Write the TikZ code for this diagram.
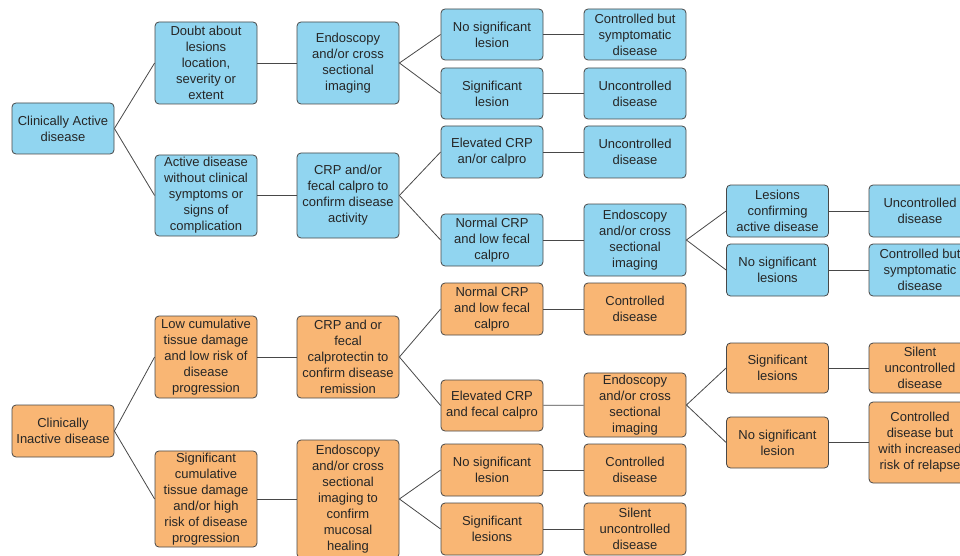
\documentclass[tikz,border=0pt]{standalone}
\usepackage{fontspec}
\setmainfont{Liberation Sans}
\definecolor{bfill}{RGB}{145,213,240}
\definecolor{ofill}{RGB}{249,182,116}
\definecolor{edge}{RGB}{72,72,72}
\begin{document}
\begin{tikzpicture}[x=1pt,y=-1pt,
  box/.style={draw=edge,line width=0.8pt,rounded corners=4pt,minimum width=102pt,
    align=center,inner xsep=1pt,inner ysep=2pt,font=\fontsize{13}{16}\selectfont,text=black!85},
  bb/.style={box,fill=bfill},
  ob/.style={box,fill=ofill},
  ln/.style={draw=edge,line width=0.8pt}]
\useasboundingbox (0,0) rectangle (960,556);
\clip (0,0) rectangle (960,556);
% blue
\node[bb,minimum height=51] (ca) at (63,128.5) {Clinically Active\\disease};
\node[bb,minimum height=82] (doubt) at (206,63) {Doubt about\\lesions\\location,\\severity or\\extent};
\node[bb,minimum height=81] (actwo) at (206,195.5) {Active disease\\without clinical\\symptoms or\\signs of\\complication};
\node[bb,minimum height=82] (endo1) at (348,63) {Endoscopy\\and/or cross\\sectional\\imaging};
\node[bb,minimum height=85] (crp1) at (348,195.5) {CRP and/or\\fecal calpro to\\confirm disease\\activity};
\node[bb,minimum height=51] (nsl1) at (492,34.5) {No significant\\lesion};
\node[bb,minimum height=51] (sl1) at (492,93.5) {Significant\\lesion};
\node[bb,minimum height=52] (ecrp1) at (492,152) {Elevated CRP\\an/or calpro};
\node[bb,minimum height=52] (ncrp1) at (492,240) {Normal CRP\\and low fecal\\calpro};
\node[bb,minimum height=51] (cbs1) at (635,34.5) {Controlled but\\symptomatic\\disease};
\node[bb,minimum height=51] (unc1) at (635,93.5) {Uncontrolled\\disease};
\node[bb,minimum height=52] (unc2) at (635,152) {Uncontrolled\\disease};
\node[bb,minimum height=72] (endo2) at (635,240) {Endoscopy\\and/or cross\\sectional\\imaging};
\node[bb,minimum height=52] (lca) at (777.5,211) {Lesions\\confirming\\active disease};
\node[bb,minimum height=52] (nsl2) at (777.5,270) {No significant\\lesions};
\node[bb,minimum height=52] (unc3) at (920,211) {Uncontrolled\\disease};
\node[bb,minimum height=52] (cbs2) at (920,270) {Controlled but\\symptomatic\\disease};
% orange
\node[ob,minimum height=52] (ci) at (63,431) {Clinically\\Inactive disease};
\node[ob,minimum height=82] (lowc) at (206,357) {Low cumulative\\tissue damage\\and low risk of\\disease\\progression};
\node[ob,minimum height=96] (sigc) at (206,499) {Significant\\cumulative\\tissue damage\\and/or high\\risk of disease\\progression};
\node[ob,minimum height=82] (crp2) at (348,357) {CRP and or\\fecal\\calprotectin to\\confirm disease\\remission};
\node[ob,minimum height=118] (endo3) at (348,499) {Endoscopy\\and/or cross\\sectional\\imaging to\\confirm\\mucosal\\healing};
\node[ob,minimum height=52] (ncrp2) at (492,309) {Normal CRP\\and low fecal\\calpro};
\node[ob,minimum height=51] (ecrp2) at (492,405.5) {Elevated CRP\\and fecal calpro};
\node[ob,minimum height=52] (nsl3) at (492,470) {No significant\\lesion};
\node[ob,minimum height=52] (sl3) at (492,529) {Significant\\lesions};
\node[ob,minimum height=52] (cd1) at (635,309) {Controlled\\disease};
\node[ob,minimum height=64] (endo4) at (635,405) {Endoscopy\\and/or cross\\sectional\\imaging};
\node[ob,minimum height=52] (cd2) at (635,470) {Controlled\\disease};
\node[ob,minimum height=52] (suc1) at (635,529) {Silent\\uncontrolled\\disease};
\node[ob,minimum height=50] (sl4) at (777.5,368) {Significant\\lesions};
\node[ob,minimum height=51] (nsl4) at (777.5,442.5) {No significant\\lesion};
\node[ob,minimum height=50] (suc2) at (920,368) {Silent\\uncontrolled\\disease};
\node[ob,minimum height=81] (cdb) at (920,442.5) {Controlled\\disease but\\with increased\\risk of relapse};
% connectors
\draw[ln] (ca.east) -- (doubt.west);
\draw[ln] (ca.east) -- (actwo.west);
\draw[ln] (doubt) -- (endo1);
\draw[ln] (actwo) -- (crp1);
\draw[ln] (endo1.east) -- (nsl1.west);
\draw[ln] (endo1.east) -- (sl1.west);
\draw[ln] (crp1.east) -- (ecrp1.west);
\draw[ln] (crp1.east) -- (ncrp1.west);
\draw[ln] (nsl1) -- (cbs1);
\draw[ln] (sl1) -- (unc1);
\draw[ln] (ecrp1) -- (unc2);
\draw[ln] (ncrp1) -- (endo2);
\draw[ln] (endo2.east) -- (lca.west);
\draw[ln] (endo2.east) -- (nsl2.west);
\draw[ln] (lca) -- (unc3);
\draw[ln] (nsl2) -- (cbs2);
\draw[ln] (ci.east) -- (lowc.west);
\draw[ln] (ci.east) -- (sigc.west);
\draw[ln] (lowc) -- (crp2);
\draw[ln] (sigc) -- (endo3);
\draw[ln] (crp2.east) -- (ncrp2.west);
\draw[ln] (crp2.east) -- (ecrp2.west);
\draw[ln] (endo3.east) -- (nsl3.west);
\draw[ln] (endo3.east) -- (sl3.west);
\draw[ln] (ncrp2) -- (cd1);
\draw[ln] (ecrp2) -- (endo4);
\draw[ln] (nsl3) -- (cd2);
\draw[ln] (sl3) -- (suc1);
\draw[ln] (endo4.east) -- (sl4.west);
\draw[ln] (endo4.east) -- (nsl4.west);
\draw[ln] (sl4) -- (suc2);
\draw[ln] (nsl4) -- (cdb);
\end{tikzpicture}
\end{document}
